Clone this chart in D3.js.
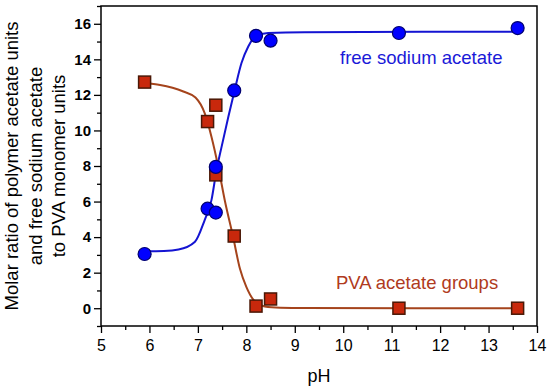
<!DOCTYPE html>
<html>
<head>
<meta charset="utf-8">
<script src="https://cdn.jsdelivr.net/npm/d3@7"></script>
<style>
  body { margin: 0; background: #fff; }
  svg { display: block; font-family: Arial, "Liberation Sans", sans-serif; }
</style>
</head>
<body>
<svg width="550" height="387"></svg>
<script>
var phValues = [5.9, 7.2, 7.37, 7.37, 7.75, 8.2, 8.5, 11.15, 13.6]
var sodiumAcetate = [3.05, 5.6, 5.38, 7.95, 12.25, 15.32, 15.05, 15.48, 15.76]
var pvaAcetate = [12.72, 10.5, 11.42, 7.5, 4.06, 0.12, 0.52, 0.0, 0.0]

// fitted curves, sampled from the figure
var sodiumFit = [[5.9, 3.2], [6.3, 3.22], [6.6, 3.3], [6.94, 3.74], [7.14, 4.96], [7.28, 6.08],
  [7.385, 7.77], [7.49, 9.09], [7.63, 10.78], [7.76, 12.28], [7.9, 13.79], [8.04, 14.72],
  [8.18, 15.28], [8.45, 15.48], [9.2, 15.53], [13.6, 15.55]]
var pvaFit = [[5.9, 12.65], [6.22, 12.56], [6.7, 12.19], [6.95, 11.85], [7.14, 10.97], [7.28, 9.65],
  [7.42, 7.96], [7.56, 6.0], [7.72, 4.1], [7.87, 2.2], [8.0, 1.2], [8.14, 0.5], [8.38, 0.1],
  [8.7, 0.03], [9.2, 0.01], [13.6, 0.0]]

var xTicks = [5, 6, 7, 8, 9, 10, 11, 12, 13, 14]
var yTicks = [0, 2, 4, 6, 8, 10, 12, 14, 16]

var svg = d3.select("svg")
var plotLeft = 101, plotRight = 537, plotTop = 6, plotBottom = 326

var x = d3.scaleLinear().domain([5, 14]).range([plotLeft, plotRight])
var y = d3.scaleLinear().domain([-1, 17]).range([plotBottom, plotTop])

// minor ticks
svg.append("g")
  .attr("transform", "translate(0," + plotBottom + ")")
  .call(d3.axisBottom(x).tickValues(d3.range(5.5, 14, 1)).tickSize(4).tickFormat(""))
svg.append("g")
  .attr("transform", "translate(" + plotLeft + ",0)")
  .call(d3.axisLeft(y).tickValues(d3.range(-1, 18, 2)).tickSize(4).tickFormat(""))

// major ticks + labels
var xAxis = svg.append("g")
  .attr("transform", "translate(0," + plotBottom + ")")
  .call(d3.axisBottom(x).tickValues(xTicks).tickSize(7).tickPadding(7).tickFormat(d3.format("d")))
xAxis.selectAll("text").style("font-size", "16px").attr("fill", "#000")

var yAxis = svg.append("g")
  .attr("transform", "translate(" + plotLeft + ",0)")
  .call(d3.axisLeft(y).tickValues(yTicks).tickSize(7).tickPadding(3).tickFormat(d3.format("d")))
yAxis.selectAll("text").style("font-size", "15px").style("font-weight", "bold").attr("fill", "#000")

svg.selectAll(".domain").remove()
svg.selectAll(".tick line").attr("stroke", "#000").attr("stroke-width", 1.3)

svg.append("rect")
  .attr("x", plotLeft).attr("y", plotTop)
  .attr("width", plotRight - plotLeft).attr("height", plotBottom - plotTop)
  .attr("fill", "none").attr("stroke", "#000").attr("stroke-width", 1.5)

// fit lines
var line = d3.line()
  .x(function(d) { return x(d[0]) })
  .y(function(d) { return y(d[1]) })
  .curve(d3.curveMonotoneX)

svg.append("path").datum(sodiumFit)
  .attr("d", line).attr("fill", "none").attr("stroke", "#1414d2").attr("stroke-width", 2)
svg.append("path").datum(pvaFit)
  .attr("d", line).attr("fill", "none").attr("stroke", "#a5441c").attr("stroke-width", 2)

// markers
var s = 12
svg.append("g").selectAll("rect")
  .data(phValues)
  .join("rect")
    .attr("x", function(d) { return x(d) - s / 2 })
    .attr("y", function(d, i) { return y(pvaAcetate[i]) - s / 2 })
    .attr("width", s).attr("height", s)
    .attr("fill", "#c8280c").attr("stroke", "#4a1806").attr("stroke-width", 1.5)

svg.append("g").selectAll("circle")
  .data(phValues)
  .join("circle")
    .attr("cx", function(d) { return x(d) })
    .attr("cy", function(d, i) { return y(sodiumAcetate[i]) })
    .attr("r", 6.5)
    .attr("fill", "#0000ff").attr("stroke", "#000070").attr("stroke-width", 1.2)

// annotations
svg.append("text").attr("x", 340).attr("y", 64)
  .style("font-size", "18.5px").attr("fill", "#1a1ad8").text("free sodium acetate")
svg.append("text").attr("x", 336).attr("y", 289)
  .style("font-size", "18.5px").attr("fill", "#b03a20").text("PVA acetate groups")

// axis titles
svg.append("text").attr("x", (plotLeft + plotRight) / 2).attr("y", 382)
  .attr("text-anchor", "middle").style("font-size", "18px").text("pH")

var yTitle = ["Molar ratio of polymer acetate units", "and free sodium acetate", "to PVA monomer units"]
svg.append("g")
  .attr("transform", "translate(0," + (plotTop + plotBottom) / 2 + ") rotate(-90)")
  .selectAll("text")
  .data(yTitle)
  .join("text")
    .attr("x", 0)
    .attr("y", function(d, i) { return 18 + i * 23.7 })
    .attr("text-anchor", "middle")
    .style("font-size", "18.5px")
    .text(function(d) { return d })
</script>
</body>
</html>
